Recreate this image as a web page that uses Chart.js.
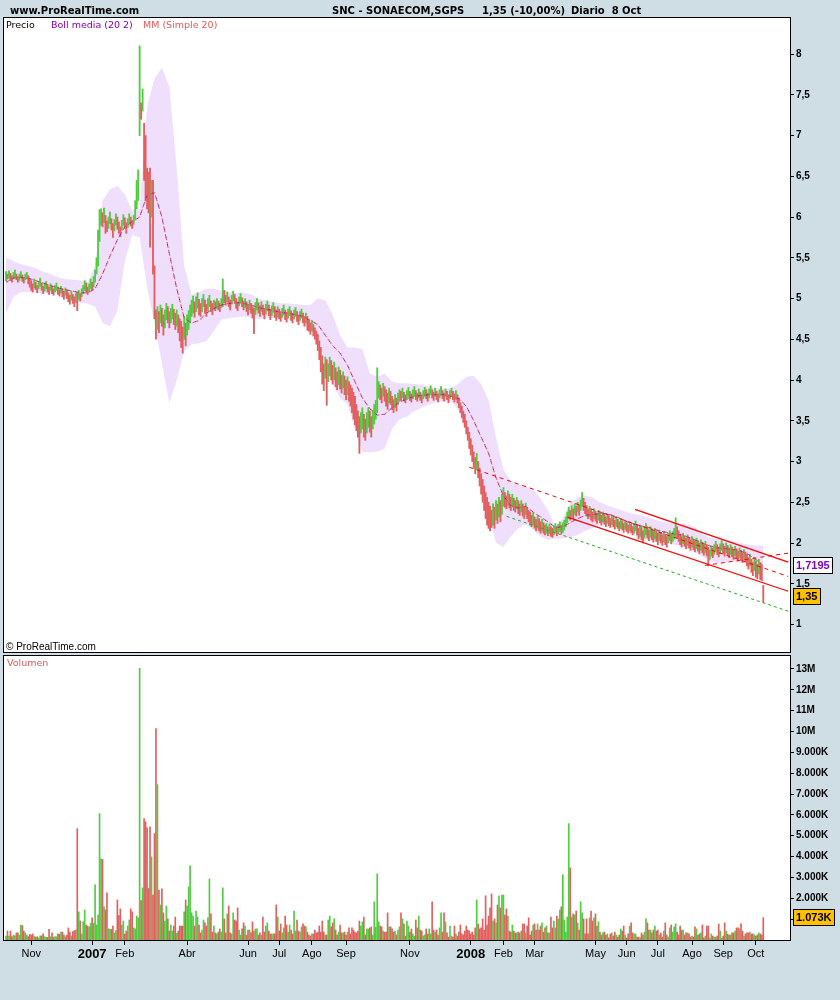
<!DOCTYPE html>
<html><head><meta charset="utf-8">
<script src="https://cdn.jsdelivr.net/npm/chart.js@4.4.1/dist/chart.umd.min.js"></script>
<style>
html,body{margin:0;padding:0;background:#cfdde5;}
#wrap{position:relative;width:840px;height:1000px;background:#cfdde5;overflow:hidden;}
canvas{position:absolute;left:0;}
.t{position:absolute;white-space:pre;line-height:1;}
.h{font:bold 10px "DejaVu Sans",sans-serif;color:#000;top:5px;}
.lg{font:9.5px "DejaVu Sans",sans-serif;top:19px;}
</style></head><body>
<div id="wrap">
<canvas id="cp" width="840" height="655" style="top:0"></canvas>
<canvas id="cv" width="840" height="348" style="top:652px"></canvas>
<div class="t h" style="left:10px">www.ProRealTime.com</div>
<div class="t h" style="left:332px">SNC - SONAECOM,SGPS</div>
<div class="t h" style="left:482px">1,35 (-10,00%)</div>
<div class="t h" style="left:571px">Diario  8 Oct</div>
<div class="t lg" style="left:6px;color:#000">Precio</div>
<div class="t lg" style="left:51px;color:#8000c0">Boll media (20 2)</div>
<div class="t lg" style="left:143px;color:#e05a5a">MM (Simple 20)</div>
<div class="t" style="left:6px;top:641px;font:10px 'Liberation Sans',Arial,sans-serif;color:#000">© ProRealTime.com</div>
<div class="t" style="left:7px;top:657px;font:9.5px 'DejaVu Sans',sans-serif;color:#e05a5a">Volumen</div>
</div>
<script>
// ---- data (trading-day index 0 = 9 Oct 2006 ... 510 = 8 Oct 2008) ----
const hi = [
5.33,5.30,5.34,5.31,5.28,5.32,5.35,5.30,5.27,5.30, 5.33,5.29,5.26,5.30,5.32,5.28,5.24,5.22,5.18,5.24,
5.20,5.16,5.21,5.25,5.19,5.15,5.18,5.21,5.17,5.14, 5.18,5.15,5.12,5.16,5.19,5.14,5.11,5.15,5.12,5.09,
5.13,5.10,5.07,5.04,5.09,5.05,5.02,5.06,5.08,5.10, 5.06,5.12,5.16,5.22,5.19,5.14,5.18,5.24,5.20,5.27,
5.35,5.50,5.84,6.09,6.10,6.05,6.11,6.02,5.95,6.00, 6.06,5.98,5.92,5.97,6.04,6.00,5.94,5.88,5.96,6.03,
5.99,5.93,5.98,6.04,6.00,5.96,6.02,6.20,6.45,6.58, 8.10,7.40,7.57,7.15,7.00,6.60,6.55,6.60,6.45,6.45,
5.40,4.86,4.90,4.84,4.92,4.88,4.80,4.86,4.94,4.90, 4.84,4.88,4.93,4.87,4.82,4.86,4.80,4.75,4.72,4.65,
4.78,4.70,4.80,4.85,4.92,4.98,5.03,4.96,5.02,5.07, 4.99,4.94,5.00,5.05,4.98,4.93,5.00,5.04,4.97,4.94,
4.98,4.96,5.00,4.97,4.94,5.00,5.24,5.10,5.04,5.08, 5.02,4.98,5.04,5.09,5.05,5.00,4.96,5.02,5.06,5.01,
4.97,5.00,4.96,4.92,4.98,4.94,4.90,4.88,4.95,5.00, 4.95,4.91,4.96,4.92,4.88,4.93,4.97,4.92,4.87,4.91,
4.95,4.90,4.86,4.90,4.87,4.84,4.88,4.92,4.86,4.83, 4.87,4.90,4.85,4.82,4.86,4.89,4.84,4.80,4.84,4.87,
4.82,4.78,4.82,4.78,4.74,4.70,4.73,4.68,4.64,4.60, 4.56,4.48,4.40,4.30,4.20,4.28,4.25,4.20,4.28,4.24,
4.18,4.22,4.15,4.10,4.16,4.12,4.06,4.10,4.05,4.00, 4.04,3.98,3.94,3.90,3.85,3.80,3.70,3.62,3.55,3.60,
3.66,3.58,3.52,3.60,3.66,3.62,3.55,3.63,3.70,3.75, 4.15,3.98,3.94,3.90,3.96,3.92,3.88,3.84,3.90,3.86,
3.80,3.76,3.82,3.78,3.84,3.88,3.86,3.90,3.85,3.82, 3.87,3.91,3.86,3.83,3.88,3.92,3.87,3.84,3.89,3.85,
3.82,3.87,3.91,3.88,3.84,3.89,3.93,3.88,3.85,3.90, 3.86,3.83,3.88,3.92,3.87,3.84,3.89,3.86,3.82,3.87,
3.90,3.86,3.83,3.87,3.82,3.78,3.72,3.68,3.62,3.58, 3.50,3.42,3.36,3.28,3.20,3.12,3.05,3.10,3.00,2.92,
2.85,2.78,2.70,2.62,2.56,2.50,2.45,2.40,2.48,2.44, 2.52,2.48,2.56,2.52,2.60,2.68,2.62,2.58,2.64,2.60,
2.56,2.60,2.55,2.52,2.56,2.52,2.48,2.52,2.48,2.45, 2.49,2.44,2.40,2.38,2.34,2.37,2.32,2.29,2.33,2.30,
2.26,2.29,2.25,2.22,2.24,2.20,2.23,2.20,2.18,2.21, 2.24,2.20,2.23,2.26,2.22,2.25,2.28,2.32,2.38,2.44,
2.40,2.46,2.42,2.48,2.45,2.50,2.47,2.53,2.62,2.55, 2.50,2.46,2.42,2.45,2.41,2.38,2.42,2.39,2.36,2.40,
2.37,2.34,2.38,2.35,2.32,2.36,2.33,2.30,2.34,2.31, 2.28,2.32,2.29,2.26,2.30,2.27,2.24,2.28,2.25,2.22,
2.26,2.23,2.20,2.24,2.27,2.22,2.18,2.22,2.19,2.15, 2.20,2.24,2.20,2.16,2.20,2.17,2.14,2.18,2.15,2.12,
2.16,2.13,2.10,2.14,2.11,2.08,2.12,2.15,2.11,2.14, 2.18,2.31,2.20,2.15,2.11,2.08,2.12,2.09,2.06,2.10,
2.07,2.04,2.08,2.05,2.02,2.06,2.03,2.00,2.04,2.01, 1.98,2.02,1.98,1.95,1.92,1.96,1.94,1.98,2.02,1.98,
1.95,1.99,2.03,1.99,1.96,2.00,1.97,1.94,1.98,1.95, 1.92,1.96,1.93,1.90,1.94,1.91,1.88,1.92,1.89,1.86,
1.82,1.86,1.80,1.76,1.82,1.78,1.74,1.80,1.76,1.72, 1.48];
const lo = [
5.22,5.24,5.25,5.22,5.20,5.24,5.26,5.23,5.20,5.22, 5.25,5.21,5.19,5.23,5.24,5.18,5.14,5.10,5.08,5.13,
5.11,5.07,5.12,5.15,5.10,5.06,5.09,5.12,5.08,5.05, 5.10,5.06,5.04,5.08,5.10,5.05,5.03,5.07,5.02,4.99,
5.04,5.00,4.96,4.93,4.98,4.94,4.90,4.95,4.85,4.99, 4.97,5.02,5.06,5.10,5.08,5.05,5.08,5.12,5.10,5.14,
5.20,5.30,5.40,5.70,5.90,5.88,5.93,5.80,5.82,5.86, 5.92,5.84,5.75,5.83,5.90,5.85,5.80,5.76,5.84,5.90,
5.86,5.80,5.87,5.92,5.89,5.86,5.91,5.98,6.10,6.20, 7.00,7.20,7.30,6.45,6.20,6.10,6.05,5.63,6.00,5.30,
4.75,4.50,4.62,4.58,4.70,4.66,4.55,4.64,4.74,4.70, 4.64,4.70,4.75,4.68,4.62,4.66,4.58,4.48,4.40,4.33,
4.50,4.42,4.55,4.62,4.70,4.78,4.82,4.77,4.84,4.88, 4.80,4.78,4.84,4.90,4.82,4.78,4.85,4.90,4.84,4.80,
4.86,4.85,4.88,4.86,4.84,4.89,4.90,4.95,4.92,4.96, 4.90,4.86,4.93,4.97,4.94,4.88,4.85,4.91,4.95,4.90,
4.86,4.89,4.84,4.80,4.86,4.82,4.76,4.57,4.80,4.86, 4.82,4.78,4.84,4.80,4.75,4.81,4.85,4.79,4.74,4.79,
4.83,4.77,4.73,4.77,4.75,4.72,4.77,4.80,4.74,4.71, 4.76,4.79,4.73,4.70,4.75,4.78,4.72,4.68,4.73,4.76,
4.70,4.66,4.70,4.61,4.60,4.56,4.60,4.54,4.50,4.44, 4.36,4.25,4.10,3.95,3.87,4.02,3.69,3.98,4.05,4.00,
3.95,4.00,3.92,3.88,3.94,3.89,3.84,3.90,3.82,3.76, 3.82,3.74,3.68,3.60,3.52,3.45,3.38,3.30,3.10,3.35,
3.40,3.30,3.26,3.35,3.42,3.36,3.30,3.40,3.46,3.52, 3.60,3.78,3.76,3.72,3.80,3.74,3.68,3.64,3.72,3.70,
3.64,3.60,3.66,3.62,3.70,3.74,3.75,3.78,3.74,3.72, 3.76,3.79,3.75,3.73,3.77,3.80,3.76,3.74,3.78,3.75,
3.72,3.77,3.80,3.77,3.74,3.78,3.82,3.78,3.75,3.80, 3.76,3.73,3.78,3.81,3.77,3.74,3.79,3.76,3.72,3.77,
3.80,3.76,3.73,3.76,3.72,3.66,3.60,3.54,3.48,3.42, 3.34,3.26,3.16,3.08,3.00,2.92,2.85,2.90,2.80,2.70,
2.60,2.50,2.40,2.30,2.22,2.18,2.15,2.19,2.22,2.18, 2.28,2.24,2.32,2.26,2.35,2.45,2.44,2.42,2.46,2.43,
2.40,2.44,2.40,2.38,2.42,2.36,2.34,2.38,2.33,2.30, 2.35,2.30,2.26,2.22,2.20,2.22,2.18,2.15,2.18,2.15,
2.12,2.15,2.12,2.10,2.12,2.09,2.11,2.08,2.07,2.10, 2.12,2.09,2.12,2.14,2.11,2.13,2.16,2.20,2.25,2.30,
2.28,2.32,2.30,2.35,2.33,2.38,2.34,2.40,2.45,2.40, 2.36,2.33,2.30,2.32,2.28,2.26,2.30,2.27,2.24,2.28,
2.25,2.22,2.26,2.23,2.20,2.24,2.21,2.19,2.22,2.20, 2.17,2.20,2.18,2.15,2.18,2.16,2.13,2.17,2.14,2.12,
2.15,2.13,2.10,2.12,2.15,2.10,2.05,2.08,2.04,2.00, 2.06,2.10,2.06,2.03,2.07,2.04,2.01,2.05,2.02,1.98,
2.03,2.00,1.97,2.01,1.98,1.95,2.00,2.03,1.99,2.02, 2.05,2.08,2.06,2.02,1.98,1.95,1.99,1.96,1.93,1.97,
1.94,1.91,1.95,1.92,1.89,1.93,1.90,1.87,1.91,1.88, 1.85,1.88,1.84,1.72,1.80,1.84,1.82,1.86,1.90,1.86,
1.83,1.87,1.91,1.87,1.84,1.88,1.85,1.82,1.86,1.83, 1.80,1.84,1.81,1.78,1.82,1.79,1.76,1.80,1.77,1.72,
1.68,1.72,1.64,1.60,1.66,1.58,1.56,1.62,1.55,1.54, 1.27];
// volume, millions
const vol = [
0.19,0.43,0.19,0.43,0.16,0.24,0.2,0.34,0.34,0.24, 0.72,0.69,0.43,0.34,0.24,0.16,0.27,0.24,0.29,0.19,
0.13,0.16,0.1,0.2,0.2,0.29,0.16,0.13,0.13,0.51, 0.16,0.34,0.13,0.16,0.16,0.29,0.27,0.38,0.38,0.24,
0.16,0.24,0.58,0.38,0.2,0.4,0.45,0.48,5.34,1.35, 0.91,0.29,0.88,1.44,0.72,0.66,0.63,0.8,1.06,0.8,
2.64,0.72,1.2,6.06,3.89,3.86,1.59,1.44,2.26,0.54, 0.51,0.51,0.67,0.34,0.45,1.92,1.17,1.49,0.72,0.91,
0.29,0.43,0.67,0.96,1.49,1.35,0.58,0.53,1.15,1.06, 13.03,1.89,2.5,5.82,5.67,5.38,2.47,5.43,3.99,2.16,
5.1,10.14,7.45,2.4,1.68,2.45,1.3,0.91,1.63,1.01, 0.43,0.72,0.43,0.67,1.1,0.32,0.43,0.67,0.67,0.67,
1.35,1.92,1.63,2.55,3.56,1.31,1.15,0.67,1.39,1.1, 0.72,0.34,0.48,0.96,0.82,0.67,1.06,2.93,1.25,0.38,
0.67,0.34,0.29,0.38,0.53,0.38,2.5,1.01,0.34,1.25, 1.63,0.34,0.29,1.3,0.96,0.91,1.54,0.48,0.24,0.53,
0.82,0.67,0.24,0.48,0.48,0.34,0.87,0.43,0.53,0.53, 0.24,0.34,0.24,1.1,0.38,0.67,0.82,0.43,0.29,0.29,
0.29,0.3,1.68,1.1,0.43,0.77,0.34,0.58,1.15,0.72, 0.38,0.72,0.48,0.29,1.39,0.43,0.96,0.43,0.38,0.63,
0.77,0.67,0.63,0.38,0.24,0.19,0.29,0.29,0.48,0.34, 0.38,0.67,0.38,0.91,0.38,0.24,0.24,0.96,1.15,0.63,
0.82,1.01,0.48,0.24,0.38,0.72,0.34,0.34,0.38,0.24, 0.38,0.58,0.29,0.58,0.48,0.38,0.34,0.43,0.91,0.67,
0.87,1.1,0.24,0.53,0.53,0.58,0.63,0.24,1.83,0.63, 3.17,0.87,0.67,0.63,0.43,0.38,0.38,1.3,0.63,0.63,
0.53,0.38,0.43,0.24,0.48,0.63,1.3,1.01,0.77,0.19, 0.91,0.67,0.38,0.53,0.29,0.19,0.96,0.58,1.15,0.48,
0.43,0.2,0.24,0.53,0.29,0.53,0.29,1.83,0.48,0.38, 0.48,0.24,0.58,1.3,0.38,1.3,0.87,0.34,0.14,0.67,
0.19,0.14,0.67,0.29,0.19,0.38,0.72,0.29,0.24,0.43, 0.67,0.48,0.43,0.29,0.38,0.24,0.58,1.92,0.77,0.53,
0.58,1.01,0.48,2.12,0.72,1.15,1.54,2.21,0.91,1.01, 0.82,1.68,2.12,1.54,2.16,2.16,1.2,1.49,1.15,0.43,
0.38,0.72,0.43,0.34,0.34,0.38,0.34,0.43,0.77,0.77, 0.34,0.67,1.06,0.24,0.43,0.72,0.77,0.48,0.77,0.48,
0.67,0.82,0.38,0.58,0.67,0.34,0.34,1.1,0.58,0.91, 0.58,1.15,1.01,1.44,1.59,3.13,0.96,0.38,1.1,5.58,
3.46,1.1,1.25,1.2,1.39,0.82,0.48,1.83,1.3,1.01, 0.29,1.01,0.29,1.06,1.39,0.91,1.06,1.25,0.67,0.87,
0.38,0.24,0.34,0.38,0.24,0.29,0.1,0.29,0.34,0.19, 0.38,0.24,0.14,0.24,0.53,0.43,0.67,0.24,0.1,0.29,
0.67,0.82,0.34,0.29,0.29,0.14,0.14,0.1,0.34,0.24, 0.38,1.01,0.82,0.48,0.48,0.34,0.48,0.67,0.43,0.48,
0.24,0.34,0.14,0.43,0.82,0.24,0.14,0.58,0.72,0.38, 0.63,0.77,0.38,0.24,0.67,0.48,0.48,0.24,0.34,0.34,
0.29,0.14,0.19,0.14,0.63,0.53,0.24,0.29,0.34,0.72, 0.1,0.19,0.67,0.67,0.1,0.29,0.19,0.14,0.14,0.19,
0.77,0.43,0.1,0.19,0.82,0.43,0.29,0.24,0.24,0.34, 0.34,0.43,0.58,0.58,0.53,0.77,0.43,0.19,0.29,0.34,
0.34,0.38,0.29,0.29,0.24,0.19,0.24,0.34,0.29,0.24, 1.073];
// Bollinger bands and 20-day mean, one value every BAND_STEP bars
const BAND_STEP = 5;
const bandUp = [
5.50,5.46,5.42,5.40,5.37,5.33,5.30,5.26,5.24,5.23, 5.22,5.20,5.40,6.20,6.34,6.38,6.28,6.08,6.10,7.35,
7.70,7.83,7.60,6.60,5.40,5.05,5.08,5.12,5.12,5.10, 5.08,5.07,5.07,5.05,5.00,4.98,4.96,4.94,4.94,4.93,
4.92,4.92,5.00,4.98,4.80,4.55,4.40,4.40,4.38,4.08, 4.04,4.08,3.98,3.96,3.96,3.95,3.94,3.92,3.90,3.90,
3.90,3.96,4.04,4.05,3.95,3.75,3.30,2.90,2.76,2.72, 2.70,2.66,2.55,2.40,2.20,2.30,2.49,2.56,2.58,2.56,
2.50,2.46,2.43,2.40,2.37,2.35,2.33,2.30,2.27,2.25, 2.24,2.24,2.22,2.18,2.10,2.06,2.05,2.04,2.02,2.00,
1.98,1.97,1.97];
const bandLo = [
4.82,5.02,5.08,5.08,5.07,5.06,5.06,5.06,5.02,4.97, 4.95,4.94,4.90,4.70,4.66,4.85,5.45,5.78,5.75,5.14,
4.70,4.20,3.72,4.00,4.35,4.44,4.45,4.48,4.60,4.74, 4.76,4.77,4.78,4.76,4.75,4.76,4.76,4.75,4.74,4.73,
4.70,4.62,4.52,4.22,3.95,3.78,3.70,3.40,3.12,3.11, 3.12,3.16,3.40,3.52,3.55,3.62,3.66,3.70,3.73,3.74,
3.73,3.62,3.35,3.12,2.75,2.35,2.00,1.95,2.08,2.18, 2.23,2.16,2.08,2.04,2.05,2.06,2.07,2.10,2.15,2.18,
2.22,2.24,2.22,2.18,2.12,2.07,2.04,2.02,2.01,2.00, 1.98,1.96,1.92,1.88,1.82,1.77,1.76,1.76,1.77,1.76,
1.74,1.68,1.50];
const ma20 = [
5.20,5.25,5.26,5.25,5.22,5.19,5.16,5.13,5.11,5.09, 5.07,5.07,5.12,5.30,5.52,5.72,5.88,5.94,6.00,6.27,
6.30,6.00,5.55,5.12,4.76,4.70,4.73,4.82,4.88,4.92, 4.94,4.95,4.94,4.92,4.89,4.87,4.85,4.83,4.82,4.80,
4.78,4.73,4.68,4.55,4.42,4.33,4.18,3.98,3.78,3.65, 3.57,3.58,3.66,3.73,3.77,3.80,3.81,3.82,3.82,3.82,
3.80,3.77,3.68,3.50,3.30,3.10,2.80,2.58,2.46,2.43, 2.45,2.38,2.32,2.26,2.19,2.20,2.25,2.30,2.34,2.35,
2.36,2.36,2.33,2.29,2.25,2.22,2.20,2.18,2.15,2.13, 2.11,2.10,2.07,2.03,1.99,1.96,1.94,1.93,1.92,1.90,
1.86,1.80,1.72];
// trend lines: [index1, price1, index2, price2]
const trendRedDash   = [312, 2.93, 526.8, 1.59];
const trendGreenDash = [337.2, 2.327, 526.8, 1.163];
const trendRedTop    = [423.6, 2.413, 526.8, 1.765];
const trendRedBot    = [378, 2.318, 526.8, 1.409];
const trendRedShort  = [470.7, 1.725, 526.8, 1.876];
// axis ticks
const xTickIdx = [17,58,80,122,163,184,206,229,272,313,335,356,397,418,439,462,483,505];
const xTickLbl = ['Nov','2007','Feb','Abr','Jun','Jul','Ago','Sep','Nov','2008','Feb','Mar','May','Jun','Jul','Ago','Sep','Oct'];
const priceTicks = [1,1.5,2,2.5,3,3.5,4,4.5,5,5.5,6,6.5,7,7.5,8];
const volTicks = [1,2,3,4,5,6,7,8,9,10,11,12,13];
const lastMA = 1.7195, lastClose = 1.35, lastVol = 1.073;

// ---- styling ----
const X_MIN = -1.35, X_MAX = 528;
const GREEN = '#4fcd3f', RED = '#e25f5f';
const mid = hi.map((h, i) => (h + lo[i]) / 2);
const barCol = mid.map((m, i) => (i === 0 || m >= mid[i - 1]) ? GREEN : RED);
const AX_FONT = {family: "'Liberation Sans', Arial, sans-serif", size: 10, weight: 'bold'};
const noPad = s => { s.paddingTop = 0; s.paddingBottom = 0; s.paddingLeft = 0; s.paddingRight = 0; };

const panelPlugin = {
  id: 'panel',
  beforeDraw(c) {
    const a = c.chartArea, ctx = c.ctx;
    ctx.save(); ctx.fillStyle = '#fff';
    ctx.fillRect(a.left, a.top, a.right - a.left, a.bottom - a.top); ctx.restore();
  },
  afterDraw(c) {
    const a = c.chartArea, ctx = c.ctx;
    ctx.save(); ctx.strokeStyle = '#000'; ctx.lineWidth = 1;
    ctx.strokeRect(a.left - 0.5, a.top - 0.5, a.right - a.left + 1, a.bottom - a.top + 1);
    ctx.restore();
  }
};
function valueBox(ctx, x, yc, text, fill, color) {
  ctx.save();
  ctx.font = "bold 11px 'Liberation Sans', Arial, sans-serif";
  const w = Math.ceil(ctx.measureText(text).width) + 6, h = 17;
  const top = Math.round(yc - h / 2);
  ctx.fillStyle = fill; ctx.fillRect(x, top, w, h);
  ctx.strokeStyle = '#000'; ctx.lineWidth = 1; ctx.strokeRect(x + 0.5, top + 0.5, w - 1, h - 1);
  ctx.fillStyle = color; ctx.textBaseline = 'middle'; ctx.fillText(text, x + 3, top + h / 2 + 0.5);
  ctx.restore();
}
const priceBoxes = {
  id: 'pboxes',
  afterDraw(c) {
    const y = c.scales.y, x0 = c.chartArea.right + 3;
    valueBox(c.ctx, x0, y.getPixelForValue(lastMA), String(lastMA).replace('.', ','), '#fff', '#8000c0');
    valueBox(c.ctx, x0, y.getPixelForValue(lastClose), String(lastClose).replace('.', ','), '#ffc000', '#000');
  }
};
const volBoxes = {
  id: 'vboxes',
  afterDraw(c) {
    const y = c.scales.y, x0 = c.chartArea.right + 3;
    valueBox(c.ctx, x0, y.getPixelForValue(lastVol), '1.073K', '#ffc000', '#000');
  }
};

const pts = (arr) => arr.map((v, k) => ({x: k * BAND_STEP, y: v}));
const seg = (t) => [{x: t[0], y: t[1]}, {x: t[2], y: t[3]}];
const lineDs = (data, color, dash, width, order, dashOff) => ({
  type: 'line', data, borderColor: color, borderWidth: width, borderDash: dash,
  borderDashOffset: dashOff || 0, pointRadius: 0, fill: false, tension: 0, order
});

new Chart(document.getElementById('cp'), {
  type: 'bar',
  data: {
    datasets: [
      {type: 'line', data: pts(bandUp), borderWidth: 0, pointRadius: 0, fill: '+1',
       backgroundColor: '#efdffd', order: 10},
      {type: 'line', data: pts(bandLo), borderWidth: 0, pointRadius: 0, fill: false, order: 11},
      {type: 'bar', data: hi.map((h, i) => ({x: i, y: [lo[i], h]})), backgroundColor: barCol,
       barThickness: 1.2, borderWidth: 0, order: 5},
      lineDs(pts(ma20), '#8a10d0', [2, 6], 1, 4, 0),
      lineDs(pts(ma20), '#e24a4a', [2, 2], 1, 3, 2),
      lineDs(seg(trendRedDash), '#ff0000', [4, 4], 1, 1),
      lineDs(seg(trendGreenDash), '#20b020', [3, 3], 1, 1),
      lineDs(seg(trendRedTop), '#ff0000', [], 1.2, 1),
      lineDs(seg(trendRedBot), '#ff0000', [], 1.2, 1),
      lineDs(seg(trendRedShort), '#ff0000', [4, 4], 1, 1)
    ]
  },
  options: {
    responsive: false, animation: false, events: [],
    layout: {padding: {left: 4, top: 18, right: 0, bottom: 3}},
    plugins: {legend: {display: false}, tooltip: {enabled: false}},
    scales: {
      x: {type: 'linear', min: X_MIN, max: X_MAX, offset: false, display: false},
      y: {
        position: 'right', min: 0.663, max: 8.442,
        afterBuildTicks: s => { s.ticks = priceTicks.map(v => ({value: v})); },
        afterFit: s => { s.width = 50; noPad(s); },
        ticks: {callback: v => String(v).replace('.', ','), font: AX_FONT, color: '#000', padding: 2, autoSkip: false},
        grid: {drawOnChartArea: false, drawTicks: true, tickLength: 4, color: '#000', offset: false},
        border: {display: false}
      }
    }
  },
  plugins: [panelPlugin, priceBoxes]
});

new Chart(document.getElementById('cv'), {
  type: 'bar',
  data: {
    datasets: [{data: vol.map((v, i) => ({x: i, y: v})), backgroundColor: barCol,
                barThickness: 1, borderWidth: 0}]
  },
  options: {
    responsive: false, animation: false, events: [],
    layout: {padding: {left: 4, top: 4, right: 0, bottom: 0}},
    plugins: {legend: {display: false}, tooltip: {enabled: false}},
    scales: {
      x: {
        type: 'linear', min: X_MIN, max: X_MAX, offset: false,
        afterBuildTicks: s => { s.ticks = xTickIdx.map(v => ({value: v})); },
        afterFit: s => { s.height = 60; noPad(s); },
        ticks: {
          autoSkip: false, maxRotation: 0, minRotation: 0, padding: 2, color: '#000',
          callback: (v, i) => xTickLbl[i],
          font: ctx => /^\d{4}$/.test(xTickLbl[ctx.index] || '')
            ? {family: "'Liberation Sans', Arial, sans-serif", size: 13, weight: 'bold'}
            : {family: "'Liberation Sans', Arial, sans-serif", size: 11}
        },
        grid: {drawOnChartArea: false, drawTicks: true, tickLength: 5, color: '#000', offset: false},
        border: {display: false}
      },
      y: {
        position: 'right', min: 0, max: 13.62,
        afterBuildTicks: s => { s.ticks = volTicks.map(v => ({value: v})); },
        afterFit: s => { s.width = 50; noPad(s); },
        ticks: {callback: v => v >= 10 ? v + 'M' : (v === 1 ? '' : v + '.000K'), font: AX_FONT, color: '#000', padding: 2, autoSkip: false},
        grid: {drawOnChartArea: false, drawTicks: true, tickLength: 4, color: '#000', offset: false},
        border: {display: false}
      }
    }
  },
  plugins: [panelPlugin, volBoxes]
});
</script>
</body></html>
